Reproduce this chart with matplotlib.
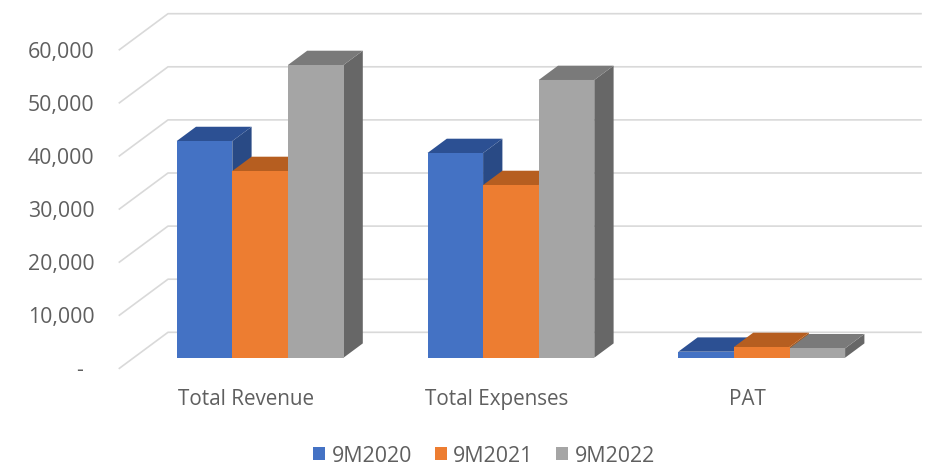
# coding: utf-8
import matplotlib

matplotlib.use("Agg")
import matplotlib.pyplot as plt
from matplotlib.patches import Patch

categories = ["Total Revenue", "Total Expenses", "PAT"]
series_names = ["9M2020", "9M2021", "9M2022"]
values_2020 = [40800, 38550, 1130]
values_2021 = [35160, 32520, 2015]
values_2022 = [55120, 52300, 1770]
y_ticks = [0, 10000, 20000, 30000, 40000, 50000, 60000]
y_labels = ["-", "10,000", "20,000", "30,000", "40,000", "50,000", "60,000"]

front_colors = ["#4472C4", "#ED7D31", "#A5A5A5"]
top_colors = ["#2C5093", "#B65E20", "#7A7A7A"]
side_colors = ["#294A85", "#A85719", "#676767"]
grid_color = "#D9D9D9"
text_color = "#5F5F5F"

# scale of the picture, pixels per unit
w_px, h_px = 925, 465
px_x = 250.8
px_y = 53.1 / 10000
x0_px, y0_px = 260.1, 357.7

bar_w = 55.6 / px_x
# depth of a bar as an oblique shift in data units
depth_x = 19.3 / px_x
depth_y = 14.3 / px_y
wall_depth = 2.52
wall_back_y = 25.4 / px_y
wall_x = (168 - x0_px) / px_x
grid_end = (921 - x0_px) / px_x

plt.rcParams["font.family"] = ["Open Sans", "DejaVu Sans"]
fig = plt.figure(figsize=(w_px / 100, h_px / 100), dpi=100)
ax = fig.add_axes([0, 0, 1, 1])
ax.set_xlim(-x0_px / px_x, (w_px - x0_px) / px_x)
ax.set_ylim((y0_px - h_px) / px_y, y0_px / px_y)
ax.axis("off")

# wall grid lines
for tick, label in zip(y_ticks, y_labels):
    back_y = tick + wall_back_y
    front_x = wall_x - depth_x * wall_depth
    front_y = back_y - depth_y * wall_depth
    ax.plot([front_x, wall_x, grid_end], [front_y, back_y, back_y], color=grid_color, lw=1.2, zorder=1)
    lx = (94.5 - x0_px) / px_x if tick else (83 - x0_px) / px_x
    ax.text(lx, front_y, label, ha="right", va="center_baseline", color=text_color, fontsize=15.3)

# bars, left to right so each one covers the side of the one before
all_values = [values_2020, values_2021, values_2022]
for i in range(len(categories)):
    for j in range(3):
        v = all_values[j][i]
        left = i + (j - 1.5) * bar_w
        right = left + bar_w
        z = 2 + i * 3 + j
        ax.fill(
            [right, right + depth_x, right + depth_x, right],
            [0, depth_y, v + depth_y, v],
            color=side_colors[j], lw=0, zorder=z,
        )
        ax.fill(
            [left, right, right + depth_x, left + depth_x],
            [v, v, v + depth_y, v + depth_y],
            color=top_colors[j], lw=0, zorder=z,
        )
        ax.bar(left, v, width=bar_w, align="edge", color=front_colors[j], lw=0, zorder=z)
    cat_y = (y0_px - 399.5) / px_y
    cat_x = i + (-14 / px_x)
    ax.text(cat_x, cat_y, categories[i], ha="center", va="center", color=text_color, fontsize=14.9)

handles = [Patch(color=c, lw=0, label=n) for c, n in zip(front_colors, series_names)]
leg = ax.legend(
    handles=handles,
    loc="center",
    bbox_to_anchor=(484 / w_px, 1 - 456 / h_px),
    ncol=3,
    frameon=False,
    fontsize=15.4,
    labelcolor=text_color,
    handlelength=0.56,
    handleheight=0.56,
    handletextpad=0.3,
    columnspacing=1.07,
    borderpad=0,
)

fig.savefig("out.png", dpi=100)
